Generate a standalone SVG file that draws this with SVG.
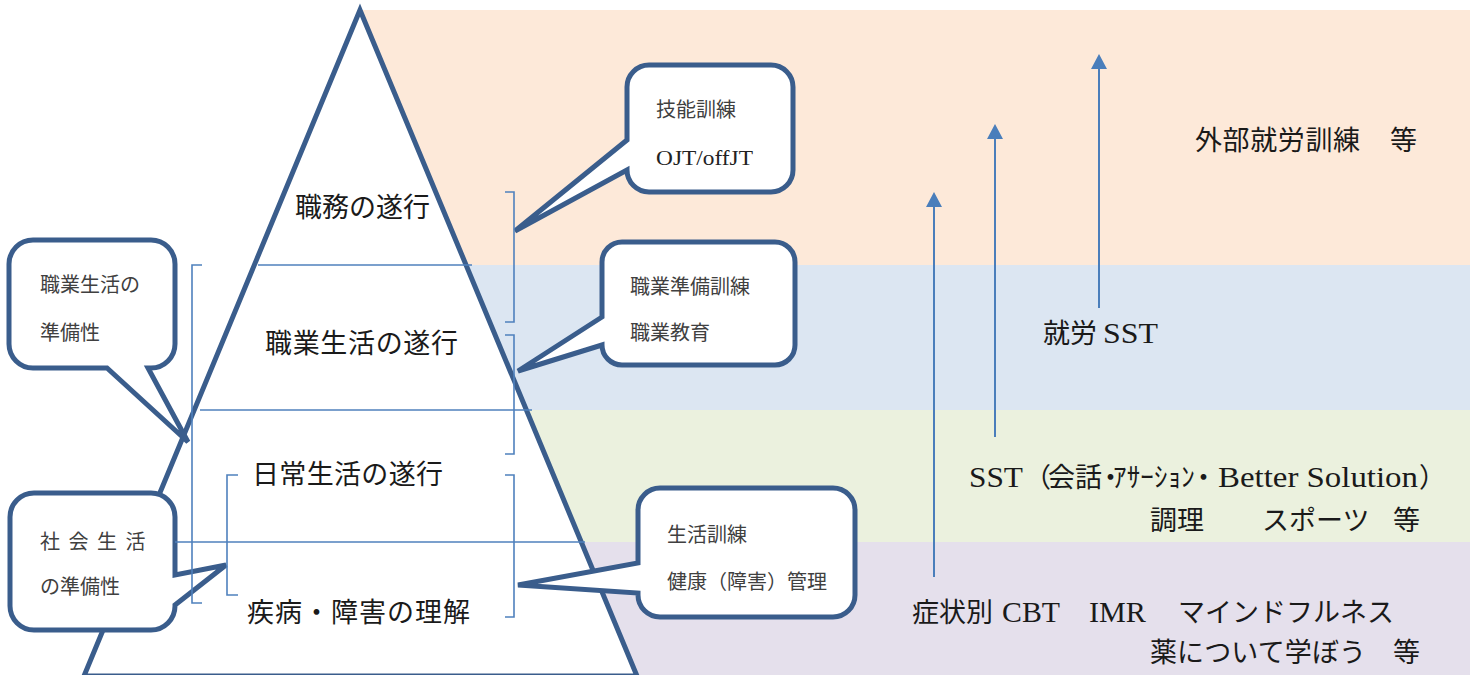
<svg xmlns="http://www.w3.org/2000/svg" width="1480" height="675" viewBox="0 0 1480 675">
<style>
.band{stroke:none}
.thin{fill:none;stroke:#4f81bd;stroke-width:1.6}
.callout{fill:#ffffff;stroke:#3a5d8c;stroke-width:5;stroke-linejoin:miter;stroke-miterlimit:4}
.tri{fill:#ffffff;stroke:#3a5d8c;stroke-width:5;stroke-linejoin:miter}
.arrow{stroke:#4a7ebb;stroke-width:2;fill:none}
.lvl{font-family:"Noto Sans CJK JP","Noto Sans CJK SC",sans-serif;font-size:27px;fill:#1a1a1a}
.ct{font-family:"Noto Sans CJK JP","Noto Sans CJK SC",sans-serif;font-size:20px;fill:#404040}
.cts{font-family:"Liberation Serif",serif;font-size:21px;fill:#222}
.rj{font-family:"Noto Sans CJK JP","Noto Sans CJK SC",sans-serif;font-size:27px;fill:#1a1a1a}
.rl{font-family:"Liberation Serif","Noto Sans CJK JP",serif;font-size:29px;fill:#1a1a1a}
</style>
<defs>
<marker id="ah" markerUnits="userSpaceOnUse" markerWidth="15" markerHeight="16" viewBox="0 0 15 16" refX="0" refY="8" orient="auto">
<path d="M0,0 L15,8 L0,16 z" fill="#4a7ebb"/>
</marker>
</defs>
<rect width="1480" height="675" fill="#ffffff"/>
<g id="bands">
<rect class="band" x="360" y="10" width="1110" height="255" fill="#fde9d9"/>
<rect class="band" x="360" y="265" width="1110" height="145" fill="#dce6f2"/>
<rect class="band" x="360" y="410" width="1110" height="132" fill="#ebf1de"/>
<rect class="band" x="360" y="542" width="1110" height="133" fill="#e5e0ec"/>
</g>
<g id="pyramid">
<path class="tri" d="M360,10 L84,676 L637,676 Z"/>
</g>
<g id="callouts">
<g id="callout-skill">
<path class="callout" d="M649,65 H771 A22,22 0 0 1 793,87 V170 A22,22 0 0 1 771,192 H649 A22,22 0 0 1 627,170 L515,231 L627,140 V87 A22,22 0 0 1 649,65 Z"/>
<text class="ct" x="656" y="117">技能訓練</text>
<text class="cts" x="656" y="165" textLength="97" lengthAdjust="spacingAndGlyphs">OJT/offJT</text>
</g>
<g id="callout-vocational">
<path class="callout" d="M622,242 H775 A20,20 0 0 1 795,262 V345 A20,20 0 0 1 775,365 H622 A20,20 0 0 1 602,345 L518,371 L602,317 V262 A20,20 0 0 1 622,242 Z"/>
<text class="ct" x="630" y="294">職業準備訓練</text>
<text class="ct" x="630" y="340">職業教育</text>
</g>
<g id="callout-living">
<path class="callout" d="M660,488 H833 A22,22 0 0 1 855,510 V595 A22,22 0 0 1 833,617 H660 A22,22 0 0 1 638,595 V593 L518,585 L638,563 V510 A22,22 0 0 1 660,488 Z"/>
<text class="ct" x="667" y="542">生活訓練</text>
<text class="ct" x="667" y="589">健康（障害）管理</text>
</g>
<g id="callout-work-readiness">
<path class="callout" d="M33,240 H151 A24,24 0 0 1 175,264 V344 A24,24 0 0 1 151,368 H148 L188,442 L107,368 H33 A24,24 0 0 1 9,344 V264 A24,24 0 0 1 33,240 Z"/>
<text class="ct" x="40" y="292">職業生活の</text>
<text class="ct" x="40" y="340">準備性</text>
</g>
<g id="callout-social-readiness">
<path class="callout" d="M34,493 H151 A24,24 0 0 1 175,517 V575 L226,565 L175,605 V606 A24,24 0 0 1 151,630 H34 A24,24 0 0 1 10,606 V517 A24,24 0 0 1 34,493 Z"/>
<text class="ct" x="40" y="549" letter-spacing="8.5">社会生活</text>
<text class="ct" x="40" y="594">の準備性</text>
</g>
</g>
<g id="connectors">
<path class="thin" d="M258,265 H472"/>
<path class="thin" d="M200,410 H532"/>
<path class="thin" d="M175,542 H585"/>
<path class="thin" d="M202,265 H192 V603 H202"/>
<path class="thin" d="M238,475 H227 V595 H238"/>
<path class="thin" d="M505,192 H514 V322 H505"/>
<path class="thin" d="M505,335 H514 V454 H505"/>
<path class="thin" d="M505,475 H514 V617 H505"/>
<line class="arrow" x1="934" y1="577" x2="934" y2="207" marker-end="url(#ah)"/>
<line class="arrow" x1="995" y1="437" x2="995" y2="139" marker-end="url(#ah)"/>
<line class="arrow" x1="1099" y1="308" x2="1099" y2="69" marker-end="url(#ah)"/>
</g>
<g id="levels">
<text class="lvl" x="295" y="217">職務の遂行</text>
<text class="lvl" x="265" y="353" textLength="193">職業生活の遂行</text>
<text class="lvl" x="252" y="484" textLength="191">日常生活の遂行</text>
<text class="lvl" x="247" y="622" textLength="223">疾病・障害の理解</text>
</g>
<g id="programs">
<text class="rj" x="1195" y="150" textLength="165">外部就労訓練</text>
<text class="rj" x="1390" y="150">等</text>
<text class="rj" x="1043" y="343">就労</text>
<text class="rl" x="1103" y="343" textLength="55" lengthAdjust="spacingAndGlyphs">SST</text>
<text class="rl" x="969" y="487" textLength="54" lengthAdjust="spacingAndGlyphs">SST</text>
<text class="rj" y="487" x="1024 1048 1075 1097 1113 1126.7 1140.3 1154 1167.7 1181.3 1190">（会話・ｱｻｰｼｮﾝ・</text>
<text class="rl" x="1218" y="487" textLength="200" lengthAdjust="spacingAndGlyphs">Better Solution</text>
<text class="rj" x="1419" y="487">）</text>
<text class="rj" x="1150" y="530">調理</text>
<text class="rj" x="1262" y="530">スポーツ</text>
<text class="rj" x="1393" y="530">等</text>
<text class="rj" x="912" y="622">症状別</text>
<text class="rl" x="1002" y="622" textLength="58" lengthAdjust="spacingAndGlyphs">CBT</text>
<text class="rl" x="1089" y="622" textLength="57" lengthAdjust="spacingAndGlyphs">IMR</text>
<text class="rj" x="1178" y="622" textLength="216">マインドフルネス</text>
<text class="rj" x="1150" y="662" textLength="216">薬について学ぼう</text>
<text class="rj" x="1393" y="662">等</text>
</g>
</svg>
